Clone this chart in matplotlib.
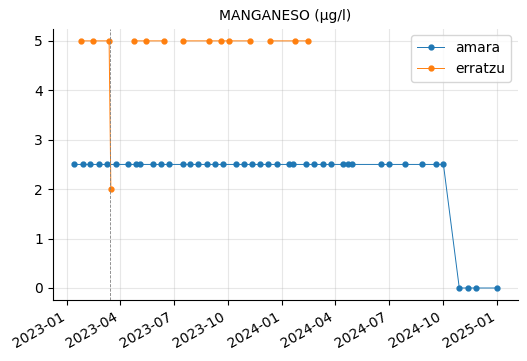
import numpy as np
import pandas as pd
import matplotlib
matplotlib.use("Agg")
import matplotlib.pyplot as plt

# amara measurements
amara_dates = [
    "2023-01-12", "2023-01-27", "2023-02-09", "2023-02-24", "2023-03-10", "2023-03-24",
    "2023-04-15", "2023-04-28", "2023-05-05", "2023-05-27", "2023-06-10", "2023-06-23",
    "2023-07-16", "2023-07-29", "2023-08-12", "2023-08-27", "2023-09-10", "2023-09-23",
    "2023-10-15", "2023-10-29", "2023-11-12", "2023-11-25", "2023-12-08", "2023-12-24",
    "2024-01-13", "2024-01-20", "2024-02-11", "2024-02-25", "2024-03-11", "2024-03-25",
    "2024-04-14", "2024-04-22", "2024-04-30", "2024-06-18", "2024-07-02", "2024-07-29",
    "2024-08-27", "2024-09-20", "2024-10-02", "2024-10-29", "2024-11-13", "2024-11-26",
    "2025-01-01",
]
amara_vals = [2.5] * 39 + [0, 0, 0, 0]

# erratzu measurements (None = missing sample)
erratzu_dates = [
    "2023-01-24", "2023-02-13", "2023-03-13", "2023-03-16", "2023-04-01",
    "2023-04-25", "2023-05-15", "2023-06-15", "2023-07-01",
    "2023-07-17", "2023-08-30", "2023-09-20", "2023-10-03", "2023-11-08", "2023-11-25",
    "2023-12-12", "2024-01-24", "2024-02-15",
]
erratzu_vals = [5, 5, 5, 2, None,
                5, 5, 5, None,
                5, 5, 5, 5, 5, None,
                5, 5, 5]

vline_date = "2023-03-15"

amara = pd.Series(amara_vals, index=pd.to_datetime(amara_dates), dtype=float)
erratzu = pd.Series(erratzu_vals, index=pd.to_datetime(erratzu_dates), dtype=float)

fig, ax = plt.subplots(figsize=(5.27, 3.61), dpi=100)

ax.plot(amara.index, amara.values, marker="o", markersize=3.5, linewidth=0.7, label="amara")
ax.plot(erratzu.index, erratzu.values, marker="o", markersize=3.5, linewidth=0.7, label="erratzu")
ax.axvline(pd.Timestamp(vline_date), color="grey", linestyle="--", linewidth=0.6)

ax.set_title("MANGANESO (µg/l)", fontsize=10)
ax.grid(True, alpha=0.3)
ax.spines["top"].set_visible(False)
ax.spines["right"].set_visible(False)
ax.legend(loc="upper right")
fig.autofmt_xdate()

fig.subplots_adjust(left=0.1, right=0.983, top=0.921, bottom=0.168)
fig.savefig("out.png", dpi=100)
